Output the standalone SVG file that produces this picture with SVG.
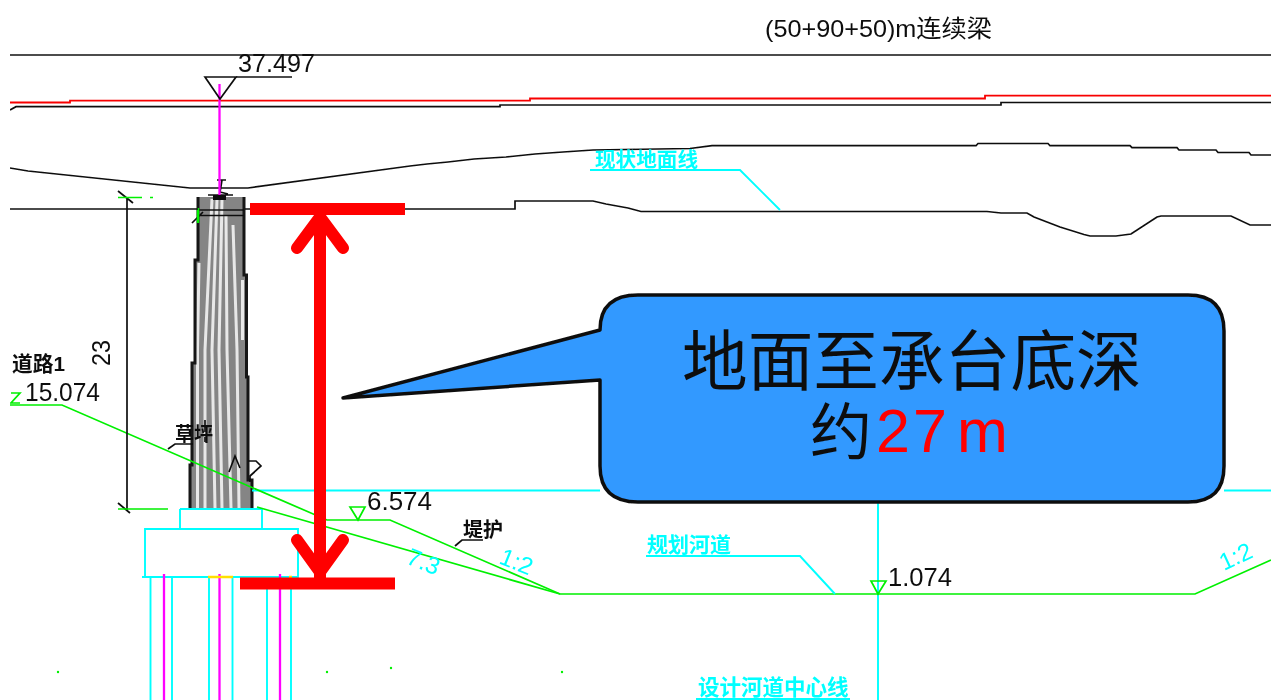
<svg xmlns="http://www.w3.org/2000/svg" width="1271" height="700" viewBox="0 0 1271 700">
<defs>
<filter id="soft" x="0" y="0" width="100%" height="100%"><feGaussianBlur stdDeviation="0.4"/></filter>
<style>
text{font-family:"Liberation Sans","Noto Sans CJK SC",sans-serif}
.k{fill:none;stroke:#111;stroke-width:1.700}
.g{fill:none;stroke:#00f000;stroke-width:1.700}
.c{fill:none;stroke:#00ffff;stroke-width:1.900}
.m{fill:none;stroke:#ff00ff;stroke-width:2.300}
.tk{fill:#111;font-size:26px}
.tb{fill:#111;font-weight:bold}
.tc{fill:#00ffff;font-size:23px}
.red{fill:none;stroke:#ff0000;stroke-width:12;stroke-linecap:round;stroke-linejoin:round}
</style></defs>
<rect width="1271" height="700" fill="#fff"/>
<g filter="url(#soft)">
<g id="pier">
<path d="M198 197H244V275H246.500V377H248V480H252V508H190V465H192V363H195V260H198Z" fill="#858585"/>
<g fill="none" stroke="#e8e8e8" stroke-width="3">
<path d="M199 263L197.500 350V508M212 199L205 350V508M217 199L212 350L215 508M222 199L219 350L222 508M226 215L227 350L231 508M233 225L237 350L239 508M242.500 280V340"/>
</g>
<path fill="none" stroke="#151515" stroke-width="3" d="M198 197V260H195V363H192V465H190V508M244 197V275H246.500V377H248V480H252V508"/>
<path class="k" d="M208 195H233M198 210H244M200 215.500H244M192 223L203 212M217 180H226M222 180L220 192M220 192L228 194"/>
<rect x="213" y="195" width="13" height="5" fill="#111"/>
<path stroke="#00f000" stroke-width="2.500" fill="none" d="M198 208V223"/>
<path class="k" d="M229 472L235 456L240 468M248 461H256L261 466L250 476V482M205 420V432M205 437V442"/>
</g>
<g id="foundation">
<path class="c" d="M180 509H262V529H145V577H298V529H262M180 509V529M142 577H298M150.500 577V700M172 577V700M209 577V700M232.500 577V700M267 577V700M291 577V700"/>
<path class="m" d="M164 574V700M219.500 574V700M280 574V700"/>
<path fill="none" stroke="#ffe000" stroke-width="2.500" d="M208 577H233M289 577H292"/>
</g>
<g id="connectors">
<path class="k" d="M10 55H1271"/>
<path fill="none" stroke="#f80000" stroke-width="1.800" d="M10 102.500H70V100.700H530V98.500H985V95.700H1271"/>
<path class="k" d="M10 110L16 106.700H500V105H1001V102.500H1271"/>
<path class="k" d="M10 168L28 171L190 188H248L410 166L427 164L448 162L474 159L506 157L535 154L563 152L593 150L690 148.500L712 145.700H976L978 143.500H1048L1050 145.700H1130L1132 147.700H1177L1179 150H1216L1218 152.500H1249L1251 155H1271"/>
<path class="k" d="M10 209H198M245 209H515V201H593L606 204L628 208L641 211.500H987L1001 213H1027L1034 217L1060 227L1084 234.500L1090 236H1116L1131 234L1157 217L1161 216H1231L1250 225H1271"/>
<path class="c" d="M252 490.500H600M1224 490.500H1271M878 502V700"/>
<path class="g" d="M10 405H62L327 520H390L560 594H1195L1271 560"/>
<path class="g" d="M257 507L560 594"/>
<path class="k" d="M127 197V510M118 191L133 203M118 503L130 513"/>
<path class="g" d="M118 197.500H142M150 197.500H153M118 509H168"/>
<path class="c" d="M590 170H740L780 210"/>
<path class="c" d="M646 556H800L835 594"/>
<path class="c" d="M696 699H850"/>
<path class="k" d="M168 449L175 444H193"/>
<path class="k" d="M455 546L462 540H483"/>
<path class="k" d="M236 77H292"/>
<path class="m" d="M219.500 84V195"/>
<g fill="#00f000"><circle cx="58" cy="672" r="1.200"/><circle cx="327" cy="672" r="1.200"/><circle cx="391" cy="668" r="1.200"/><circle cx="562" cy="672" r="1.200"/></g>
</g>
<g id="level-37"><path class="k" d="M205 77H236L220 99Z"/><text class="tk" x="238" y="72" textLength="77" lengthAdjust="spacingAndGlyphs">37.497</text></g>
<g id="labels">
<text class="tk" x="765" y="37" style="font-size:24px" textLength="227" lengthAdjust="spacingAndGlyphs">(50+90+50)m连续梁</text>
<text class="tb" x="12" y="371" style="font-size:21px" textLength="53" lengthAdjust="spacingAndGlyphs">道路1</text>
<text class="tk" x="25" y="401" textLength="75" lengthAdjust="spacingAndGlyphs">15.074</text>
<text class="tk" transform="translate(110 366) rotate(-90)" textLength="26" lengthAdjust="spacingAndGlyphs">23</text>
<text class="tb" x="175" y="441" style="font-size:19px">草坪</text>
<text class="tk" x="367" y="510" textLength="65" lengthAdjust="spacingAndGlyphs">6.574</text>
<text class="tb" x="463" y="537" style="font-size:20px">堤护</text>
<text class="tk" x="888" y="586" textLength="64" lengthAdjust="spacingAndGlyphs">1.074</text>
<text class="tc" x="595" y="167" style="font-size:20px;font-weight:bold" textLength="103" lengthAdjust="spacingAndGlyphs">现状地面线</text>
<text class="tc" x="647" y="552" style="font-size:21px;font-weight:bold">规划河道</text>
<text class="tc" x="698" y="695" style="font-size:21.500px;font-weight:bold">设计河道中心线</text>
<text class="tc" transform="translate(498 563) rotate(22)" style="font-size:24px">1:2</text>
<text class="tc" transform="translate(405 563) rotate(22)" style="font-size:24px">7.3</text>
<text class="tc" transform="translate(1224 571) rotate(-25)" style="font-size:24px">1:2</text>
<path d="M350 507H365L358 520Z" class="g"/>
<path d="M871 581H886L878 594Z" class="g"/>
<path d="M11 393H20L11 403H20" class="g"/>
</g>
<g id="depth-marker">
<path class="red" style="stroke-linecap:butt" d="M250 209H405M240 583.500H395M320 215V578"/>
<path class="red" d="M297 248L320 217L343 248M297 540L320 572L343 540"/>
</g>
<g id="callout">
<path d="M638 295H1188Q1224 295 1224 331V466Q1224 502 1188 502H638Q600 502 600 466V380L343 398L600 330Q600 295 638 295Z" fill="#3399ff" stroke="#111" stroke-width="3.500" stroke-linejoin="round"/>
<text x="682" y="385" style="font-size:65.700px" fill="#111">地面至承台底深</text>
<text x="810" y="455" style="font-size:62px" fill="#111">约</text>
<text x="876 913 957" y="452" style="font-size:61px" fill="#ff0000">27m</text>
</g>
</g>
</svg>
